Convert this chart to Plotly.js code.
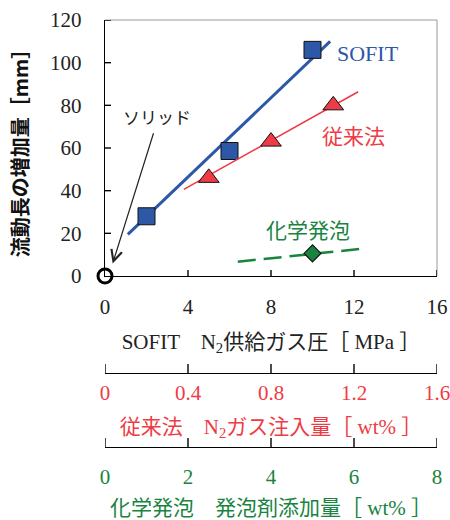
<!DOCTYPE html>
<html>
<head>
<meta charset="utf-8">
<script src="https://cdn.plot.ly/plotly-3.0.1.min.js"></script>
<style>html,body{margin:0;padding:0;background:#fff}</style>
</head>
<body>
<div id="chart" style="width:450px;height:520px"></div>
<script>
// SOFIT: N2 supply gas pressure [MPa] vs. increase in flow length [mm]
const sofitPressure = [2, 6, 10];
const sofitIncrease = [28, 58.6, 106];
const sofitFitX = [1.1, 10.85];
const sofitFitY = [19.5, 110];

// Conventional method: N2 gas injection [wt%]
const convInjection = [0.5, 0.8, 1.1];
const convIncrease = [46, 63, 80];
const convFitX = [0.38, 1.22];
const convFitY = [40.6, 86.4];

// Chemical foaming: blowing agent added [wt%]
const chemAgent = [5];
const chemIncrease = [10.6];
const chemFitX = [3.2, 6.3];
const chemFitY = [6.7, 13.0];

// Solid (no foaming) reference
const solidX = [0];
const solidY = [0];

// Tick values of the four axes
const sofitTicks = [0, 4, 8, 12, 16];
const convTicks = [0, 0.4, 0.8, 1.2, 1.6];
const convTickText = ['0', '0.4', '0.8', '1.2', '1.6'];
const chemTicks = [0, 2, 4, 6, 8];
const yTicks = [0, 20, 40, 60, 80, 100, 120];

const BLUE = '#2c58a6';
const RED = '#ee3b45';
const GREEN = '#18843f';
const SERIF = 'Liberation Serif, Noto Sans CJK JP, serif';
const SANS = 'Noto Sans CJK JP, sans-serif';

// invisible carrier so that a secondary scale strip gets drawn
const carrier = (xs, xa, ya) => ({x: xs, y: xs.map(() => 0), xaxis: xa, yaxis: ya, mode: 'markers',
  marker: {opacity: 0}, hoverinfo: 'skip'});

const traces = [
  {x: sofitFitX, y: sofitFitY, mode: 'lines', line: {color: BLUE, width: 3}, hoverinfo: 'skip'},
  {x: sofitPressure, y: sofitIncrease, mode: 'markers',
   marker: {symbol: 'square', size: 17, color: BLUE, line: {color: '#111', width: 1}}},
  {x: convFitX, y: convFitY, xaxis: 'x2', yaxis: 'y', mode: 'lines',
   line: {color: RED, width: 1.6}, hoverinfo: 'skip'},
  {x: convInjection, y: convIncrease, xaxis: 'x2', yaxis: 'y', mode: 'markers',
   marker: {symbol: 'triangle-up', size: 18, color: RED, line: {color: '#111', width: 1}}},
  {x: chemFitX, y: chemFitY, xaxis: 'x3', yaxis: 'y', mode: 'lines',
   line: {color: GREEN, width: 2.5, dash: '18px,8px'}, hoverinfo: 'skip'},
  {x: chemAgent, y: chemIncrease, xaxis: 'x3', yaxis: 'y', mode: 'markers',
   marker: {symbol: 'diamond', size: 13, color: GREEN, line: {color: '#111', width: 1.2}}},
  {x: solidX, y: solidY, mode: 'markers', cliponaxis: false,
   marker: {symbol: 'circle-open', size: 14, color: '#000', line: {color: '#000', width: 3}}},
  carrier(convTicks, 'x2', 'y2'),
  carrier(chemTicks, 'x3', 'y3')
];

const H = 490, TOP = 20, PLOT_W = 332, PLOT_H = 256;
const frac = px => (TOP + H - px) / H;

// Axes carry line + labels; transparent outside ticks only set the label gap
const labelAxis = (extra) => Object.assign({
  showgrid: false, zeroline: false, showline: true, linecolor: '#000', linewidth: 1.3,
  ticks: 'outside', tickcolor: 'rgba(0,0,0,0)', ticklabeloverflow: 'allow', fixedrange: true
}, extra);
// Thin invisible strips that hold the two extra x scales
const strip = (px) => ({
  domain: [frac(px), frac(px) + 0.03], visible: false, range: [0, 1], fixedrange: true
});

// Inward tick marks, one short line per tick value
const TICK = {color: '#000', width: 1.4};
const tickShapes = [].concat(
  sofitTicks.slice(1).map(v => ({type: 'line', xref: 'x', yref: 'y domain',
    x0: v, x1: v, y0: 0, y1: 6 / PLOT_H, line: TICK})),
  yTicks.slice(1).map(v => ({type: 'line', xref: 'x domain', yref: 'y',
    x0: 0, x1: 6 / PLOT_W, y0: v, y1: v, line: TICK})),
  convTicks.map(v => ({type: 'line', xref: 'x2', yref: 'paper',
    x0: v, x1: v, y0: frac(373), y1: frac(373) + 9 / H, line: TICK})),
  chemTicks.map(v => ({type: 'line', xref: 'x3', yref: 'paper',
    x0: v, x1: v, y0: frac(447), y1: frac(447) + 9 / H, line: TICK}))
);

const layout = {
  width: 450, height: 520,
  margin: {l: 105, r: 13, t: TOP, b: 520 - TOP - H},
  paper_bgcolor: '#fff', plot_bgcolor: 'rgba(0,0,0,0)',
  showlegend: false,
  xaxis: labelAxis({
    range: [0, 16], tickvals: sofitTicks, ticklen: 11,
    tickfont: {family: SERIF, size: 21, color: '#222'},
    title: {text: 'SOFIT　N<sub>2</sub>供給ガス圧［ MPa ］', standoff: 16,
            font: {family: SERIF, size: 21, color: '#222'}}
  }),
  xaxis2: labelAxis({
    anchor: 'y2', range: [0, 1.6], tickvals: convTicks, ticktext: convTickText, ticklen: 0,
    tickfont: {family: SERIF, size: 21, color: RED},
    title: {text: '従来法　N<sub>2</sub>ガス注入量［ wt% ］', standoff: 15,
            font: {family: SERIF, size: 21, color: RED}}
  }),
  xaxis3: labelAxis({
    anchor: 'y3', range: [0, 8], tickvals: chemTicks, ticklen: 10,
    tickfont: {family: SERIF, size: 21, color: GREEN},
    title: {text: '化学発泡　発泡剤添加量［ wt% ］', standoff: 28,
            font: {family: SERIF, size: 21, color: GREEN}}
  }),
  yaxis: labelAxis({
    domain: [frac(276), 1], range: [0, 120], tickvals: yTicks, ticklen: 18,
    tickfont: {family: SERIF, size: 21, color: '#222'},
    title: {text: '流動長の増加量［mm］', standoff: 16,
            font: {family: SANS, size: 20, color: '#111', weight: 'bold'}}
  }),
  yaxis2: strip(373),
  yaxis3: strip(447),
  shapes: [
    {type: 'line', xref: 'x domain', yref: 'y domain', x0: 0, x1: 1, y0: 1, y1: 1,
     line: {color: '#9a9a9a', width: 1}},
    {type: 'line', xref: 'x domain', yref: 'y domain', x0: 1, x1: 1, y0: 0, y1: 1,
     line: {color: '#9a9a9a', width: 1}}
  ].concat(tickShapes),
  annotations: [
    {x: 11.1, y: 104.4, xref: 'x', yref: 'y', xanchor: 'left', text: 'SOFIT', showarrow: false,
     font: {family: SERIF, size: 22, color: BLUE}},
    {x: 11.97, y: 66.1, xref: 'x', yref: 'y', text: '従来法', showarrow: false,
     font: {family: SANS, size: 21, color: RED}},
    {x: 9.8, y: 21.9, xref: 'x', yref: 'y', text: '化学発泡', showarrow: false,
     font: {family: SANS, size: 21, color: GREEN}},
    {x: 2.49, y: 74.7, xref: 'x', yref: 'y', text: 'ソリッド', showarrow: false,
     font: {family: SANS, size: 17, color: '#222'}},
    {x: 0.37, y: 5.9, ax: 2.36, ay: 67.6, xref: 'x', yref: 'y', axref: 'x', ayref: 'y',
     text: '', showarrow: true, arrowhead: 5, arrowsize: 1.8, arrowwidth: 1.2, arrowcolor: '#222'}
  ]
};

Plotly.newPlot('chart', traces, layout, {displayModeBar: false, staticPlot: true});
</script>
</body>
</html>
